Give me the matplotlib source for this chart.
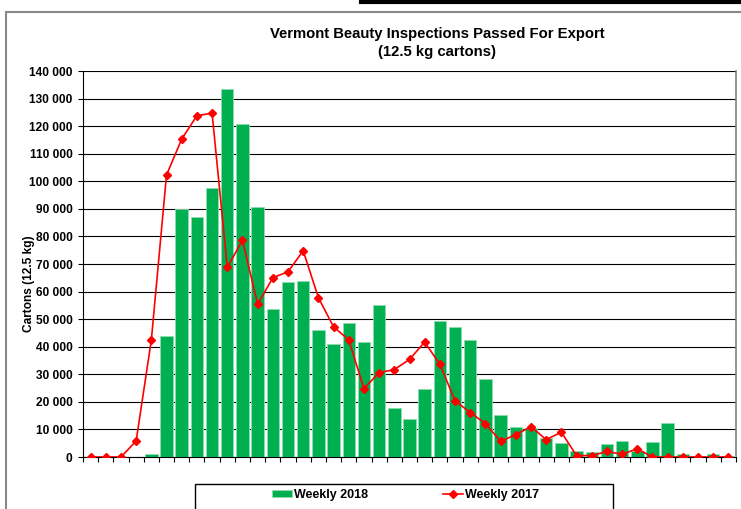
import numpy as np
import matplotlib.pyplot as plt
from matplotlib.patches import Rectangle
from matplotlib.lines import Line2D
from matplotlib.ticker import FuncFormatter, MultipleLocator

# weekly cartons passed (12.5 kg), one value per week
weekly_2018 = [0, 0, 0, 0, 1200, 44000, 90000, 87200, 97500, 133600,
               120800, 90800, 53700, 63400, 64000, 46000, 40900, 48500, 41600, 55100,
               17700, 13700, 24500, 49200, 47000, 42400, 28200, 15300, 10900, 10500,
               6800, 5200, 2300, 1900, 4600, 5800, 2300, 5600, 12200, 1100,
               0, 1000, 500]
weekly_2017 = [0, 0, 0, 5800, 42400, 102300, 115300, 123800, 124700, 68800,
               78600, 55400, 65000, 67200, 74800, 57800, 47200, 42500, 24800, 30600,
               31700, 35400, 41700, 33600, 20400, 16100, 12100, 5700, 8100, 11000,
               6300, 9000, 500, 500, 2000, 1000, 3000, 0, 0, 0,
               0, 0, 0]
legend_labels = ["Weekly 2018", "Weekly 2017"]
title_text = "Vermont Beauty Inspections Passed For Export\n(12.5 kg cartons)"
ylabel_text = "Cartons (12.5 kg)"

plt.rcParams["font.family"] = ["Liberation Sans", "DejaVu Sans"]
plt.rcParams["font.weight"] = "bold"

W, H = 741, 509
fig = plt.figure(figsize = (W / 100, H / 100), dpi = 100)
ax = fig.add_axes([83 / W, 1 - 457 / H, (736 - 83) / W, (457 - 71) / H])

x = np.arange(len(weekly_2018))

# bars and line :
bars = ax.bar(x, weekly_2018, width = 0.82, color = "#00b050", edgecolor = "#8fdcae",
              linewidth = 0.6, zorder = 3)
line, = ax.plot(x, weekly_2017, color = "#ff0000", linewidth = 1.2, marker = "D",
                markersize = 3.6, zorder = 4)

# axes :
ax.set_xlim(-0.5, len(x) - 0.5)
ax.set_ylim(0, 140000)
ax.yaxis.set_major_locator(MultipleLocator(10000))
ax.yaxis.set_major_formatter(FuncFormatter(lambda v, p: f"{int(v):,}".replace(",", " ")))
ax.set_xticks(np.arange(-0.5, len(x), 1.0))
ax.set_xticklabels([])
ax.tick_params(axis = "both", direction = "out", length = 3.5, width = 0.8, colors = "black")
ax.tick_params(axis = "y", labelsize = 8.6, pad = 4)
ax.grid(axis = "y", color = "black", linewidth = 0.8, zorder = 0)
ax.set_axisbelow(True)
ax.spines["top"].set_visible(False)
ax.spines["right"].set_color("#808080")
ax.spines["right"].set_linewidth(1.2)
ax.spines["left"].set_linewidth(0.8)
ax.spines["bottom"].set_linewidth(0.8)
for lab in ax.get_yticklabels():
    lab.set_fontweight("bold")

ax.set_ylabel(ylabel_text, fontsize = 8.6, fontweight = "bold")
ax.yaxis.set_label_coords(-0.074, 0.45)

# title :
fig.text(437 / W, 1 - 43 / H, title_text, ha = "center", va = "center",
         fontsize = 10.7, fontweight = "bold", linespacing = 1.35)

# legend with its own frame :
fig.legend([bars, line], legend_labels, loc = "center", bbox_to_anchor = (405.5 / W, 1 - 495 / H),
           ncol = 2, frameon = False, handlelength = 1.6, handleheight = 0.55,
           handletextpad = 0.15, columnspacing = 6.0, prop = {"weight": "bold", "size": 9})
fig.add_artist(Rectangle((195 / W, 1 - 520 / H), (613 - 195) / W, 36 / H,
                         transform = fig.transFigure, fill = False,
                         edgecolor = "black", linewidth = 1.0))

# outer chart frame and page rule :
fig.add_artist(Rectangle((6 / W, 1 - 530 / H), 800 / W, 518 / H,
                         transform = fig.transFigure, fill = False,
                         edgecolor = "#888888", linewidth = 1.5))
fig.add_artist(Line2D([361 / W, 1.0], [1 - 2 / H, 1 - 2 / H],
                      transform = fig.transFigure, color = "black", linewidth = 3))

fig.savefig("out.png", dpi = 100)
